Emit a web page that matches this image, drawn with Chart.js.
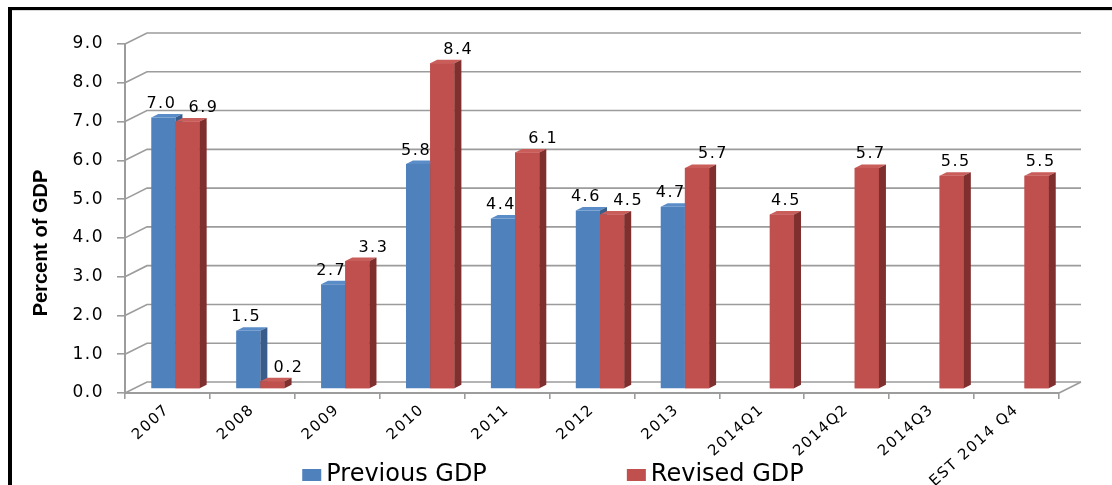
<!DOCTYPE html>
<html><head><meta charset="utf-8">
<script src="https://cdn.jsdelivr.net/npm/chart.js@4/dist/chart.umd.min.js"></script>
<style>html,body{margin:0;padding:0;background:#fff;} canvas{display:block;}</style>
</head><body>
<canvas id="c" width="1112" height="485"></canvas>
<script>
const categories = ['2007','2008','2009','2010','2011','2012','2013','2014Q1','2014Q2','2014Q3','EST 2014 Q4'];
const previousGDP = [7.0, 1.5, 2.7, 5.8, 4.4, 4.6, 4.7, null, null, null, null];
const revisedGDP  = [6.9, 0.2, 3.3, 8.4, 6.1, 4.5, 5.7, 4.5, 5.7, 5.5, 5.5];
const yTickValues = [0, 1, 2, 3, 4, 5, 6, 7, 8, 9];
const seriesNames = ['Previous GDP', 'Revised GDP'];
const axisTitle = 'Percent of GDP';

const COLORS = {
  blue:  {front:'#4F81BD', top:'#5A8CC8', side:'#385D8A'},
  red:   {front:'#C0504D', top:'#C95D5A', side:'#7F2F2D'}
};
const FACE = [COLORS.blue, COLORS.red];
const WALL = {dx:22, dy:-11};      // 3D depth of the plot box
const SHIFT = {dx:8, dy:-4};       // bars sit a bit inside the box
const BDEPTH = {dx:7, dy:-3.5};    // bar depth
const GRID = '#9C9C9C';
const SPACING = '1.5px';

function drawFaces(ctx, meta, f, vals){
  meta.data.forEach((el, i) => {
    if (vals[i] == null) return;
    const p = el.getProps(['x','y','base','width'], true);
    const l = p.x - p.width/2, r = p.x + p.width/2;
    ctx.fillStyle = f.top;
    ctx.beginPath();
    ctx.moveTo(l, p.y); ctx.lineTo(r, p.y);
    ctx.lineTo(r + BDEPTH.dx, p.y + BDEPTH.dy); ctx.lineTo(l + BDEPTH.dx, p.y + BDEPTH.dy);
    ctx.closePath(); ctx.fill();
    ctx.fillStyle = f.side;
    ctx.beginPath();
    ctx.moveTo(r, p.y); ctx.lineTo(r + BDEPTH.dx, p.y + BDEPTH.dy);
    ctx.lineTo(r + BDEPTH.dx, p.base + BDEPTH.dy); ctx.lineTo(r, p.base);
    ctx.closePath(); ctx.fill();
  });
}

const threeD = {
  id:'threeD',
  beforeDraw(chart){
    const ctx = chart.ctx;
    ctx.save();
    ctx.fillStyle = '#fff';
    ctx.fillRect(0,0,chart.width,chart.height);
    ctx.fillStyle = '#000';
    ctx.fillRect(8,7,4,chart.height-7);
    ctx.fillRect(8,7,chart.width-8,3);
    ctx.fillStyle = '#d8d8d8';
    ctx.fillRect(12,10,chart.width-12,1);
    ctx.restore();
    ctx.letterSpacing = SPACING;
  },
  beforeDatasetsDraw(chart){
    const ctx = chart.ctx, a = chart.chartArea, y = chart.scales.y;
    ctx.save();
    ctx.strokeStyle = GRID; ctx.lineWidth = 1.6;
    y.ticks.forEach(t => {
      const py = y.getPixelForValue(t.value);
      ctx.beginPath();
      ctx.moveTo(a.left, py);
      ctx.lineTo(a.left + WALL.dx, py + WALL.dy);
      ctx.lineTo(a.right + WALL.dx, py + WALL.dy);
      ctx.stroke();
    });
    ctx.beginPath();
    ctx.moveTo(a.right, a.bottom);
    ctx.lineTo(a.right + WALL.dx, a.bottom + WALL.dy);
    ctx.stroke();
    ctx.restore();
    ctx.save();
    ctx.translate(SHIFT.dx, SHIFT.dy);
  },
  afterDatasetsDraw(chart){
    const ctx = chart.ctx;
    const m0 = chart.getDatasetMeta(0), m1 = chart.getDatasetMeta(1);
    drawFaces(ctx, m0, FACE[0], previousGDP);
    m1.data.forEach(el => el.draw(ctx));
    drawFaces(ctx, m1, FACE[1], revisedGDP);
    ctx.restore();
    // value labels
    ctx.save();
    ctx.letterSpacing = SPACING;
    ctx.font = '16px "DejaVu Sans"';
    ctx.fillStyle = '#000';
    ctx.textAlign = 'center';
    ctx.textBaseline = 'alphabetic';
    categories.forEach((c, i) => {
      const pair = previousGDP[i] != null && revisedGDP[i] != null;
      [[m0, previousGDP, pair ? -2 : 4], [m1, revisedGDP, pair ? 16 : 4]].forEach(([m, vals, nud]) => {
        if (vals[i] == null) return;
        const el = m.data[i];
        ctx.fillText(vals[i].toFixed(1), el.x + SHIFT.dx + nud, el.y + SHIFT.dy + BDEPTH.dy - 6);
      });
    });
    ctx.restore();
  },
  afterDraw(chart){
    const ctx = chart.ctx;
    // axis title
    ctx.save();
    ctx.letterSpacing = '0px';
    ctx.font = 'bold 24px "Liberation Sans Narrow", "Liberation Sans"';
    const w = ctx.measureText(axisTitle).width;
    if (w > 165) { ctx.font = 'bold 20px "Liberation Sans"'; }
    ctx.fillStyle = '#000';
    ctx.translate(47, 243);
    ctx.rotate(-Math.PI/2);
    ctx.textAlign = 'center';
    ctx.textBaseline = 'alphabetic';
    ctx.fillText(axisTitle, 0, 0);
    ctx.restore();
    // legend
    ctx.save();
    ctx.letterSpacing = '0px';
    ctx.font = '24px "DejaVu Sans"';
    ctx.textBaseline = 'alphabetic';
    const box = 19, gap = 5, itemGap = 140;
    const widths = seriesNames.map(n => box + gap + ctx.measureText(n).width);
    const total = widths[0] + itemGap + widths[1];
    let x = 553 - total/2;
    const base = 481;
    seriesNames.forEach((n, i) => {
      ctx.fillStyle = FACE[i].front;
      ctx.fillRect(x, base - 12, box, 12);
      ctx.fillStyle = '#000';
      ctx.fillText(n, x + box + gap, base);
      x += widths[i] + itemGap;
    });
    ctx.restore();
  }
};

new Chart(document.getElementById('c'), {
  type:'bar',
  data:{
    labels: categories,
    datasets:[
      {label: seriesNames[0], data: previousGDP, backgroundColor: COLORS.blue.front,
       categoryPercentage: 0.57, barPercentage: 1.0, clip: false},
      {label: seriesNames[1], data: revisedGDP, backgroundColor: COLORS.red.front,
       categoryPercentage: 0.57, barPercentage: 1.0, clip: false}
    ]
  },
  options:{
    responsive:false, animation:false, devicePixelRatio:1,
    layout:{padding:{left:12, top:44, right:53, bottom:0}},
    plugins:{legend:{display:false}, tooltip:{enabled:false}},
    scales:{
      x:{
        grid:{offset:true, drawOnChartArea:false, drawTicks:true, tickLength:6, color:GRID, lineWidth:1.6},
        border:{display:true, color:GRID, width:2},
        ticks:{minRotation:42, maxRotation:42, autoSkip:false, padding:2,
               font:{family:'DejaVu Sans', size:15}, color:'#000'},
        afterFit(s){ s.height = 92; }
      },
      y:{
        min:0, max:9,
        afterBuildTicks(s){ s.ticks = yTickValues.map(v => ({value:v})); },
        grid:{drawOnChartArea:false, drawTicks:true, tickLength:8, color:GRID, lineWidth:1.6},
        border:{display:true, color:GRID, width:2},
        ticks:{padding:13, callback:v => Number(v).toFixed(1),
               font:{family:'DejaVu Sans', size:17}, color:'#000'},
        title:{display:false},
        afterFit(s){ s.width = 113; }
      }
    }
  },
  plugins:[threeD]
});
</script>
</body></html>
